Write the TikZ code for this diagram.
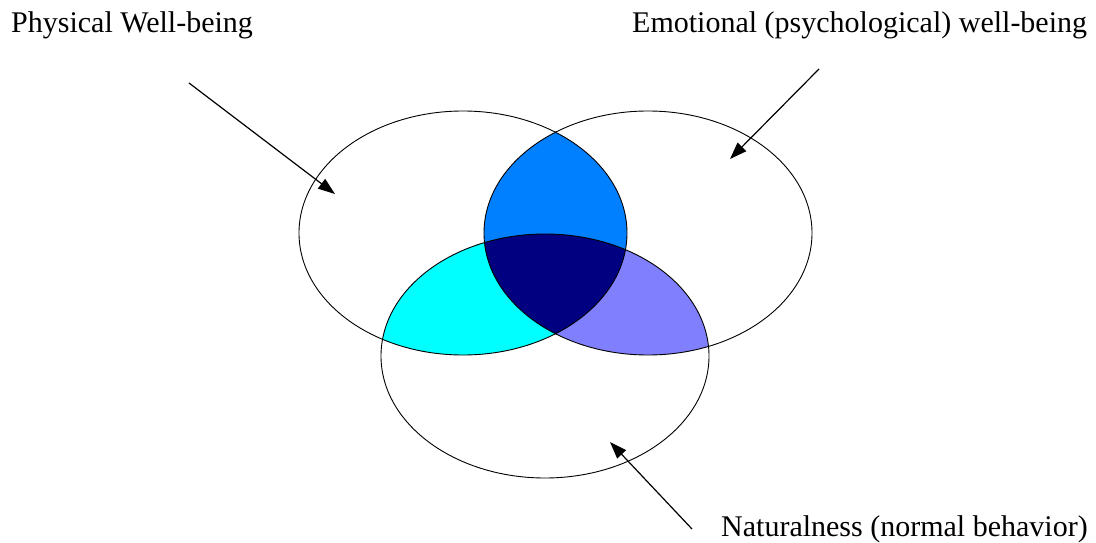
\documentclass[tikz,border=0pt]{standalone}
\usepackage{fontspec}
\setmainfont{Liberation Serif}
\usetikzlibrary{arrows.meta}
\definecolor{lensTop}{HTML}{0080FF}
\definecolor{lensLeft}{HTML}{00FFFF}
\definecolor{lensRight}{HTML}{8080FF}
\definecolor{lensCenter}{HTML}{000080}
\begin{document}
\begin{tikzpicture}[x=1pt,y=-1pt,
  lbl/.style={anchor=base west, inner sep=0pt, font=\fontsize{30}{36}\selectfont},
  ptr/.style={line width=1.2pt, -{Triangle[length=17pt,width=12pt]}},
  ring/.style={draw=black, line width=0.9pt}]
\useasboundingbox (0,0) rectangle (1096,543);
\def\Lpath{(463,233) ellipse [x radius=164, y radius=122]}
\def\Rpath{(648,233) ellipse [x radius=164, y radius=122]}
\def\Bpath{(545,356) ellipse [x radius=164, y radius=122]}
% coloured intersections
\begin{scope}\clip \Lpath; \fill[lensTop] \Rpath; \end{scope}
\begin{scope}\clip \Lpath; \fill[lensLeft] \Bpath; \end{scope}
\begin{scope}\clip \Rpath; \fill[lensRight] \Bpath; \end{scope}
\begin{scope}\clip \Lpath; \clip \Rpath; \fill[lensCenter] \Bpath; \end{scope}
% outlines
\draw[ring] \Lpath;
\draw[ring] \Rpath;
\draw[ring] \Bpath;
% labels
\node[lbl] (phys) at (11,33) {Physical Well-being};
\node[lbl] (emo) at (632,33) {Emotional (psychological) well-being};
\node[lbl] (nat) at (721,536) {Naturalness (normal behavior)};
% arrows
\coordinate (physS) at (189,83);
\coordinate (physT) at (335,194);
\coordinate (emoS) at (819,69);
\coordinate (emoT) at (730,159);
\coordinate (natS) at (692,529);
\coordinate (natT) at (610,442);
\draw[ptr] (physS) -- (physT);
\draw[ptr] (emoS) -- (emoT);
\draw[ptr] (natS) -- (natT);
\end{tikzpicture}
\end{document}
